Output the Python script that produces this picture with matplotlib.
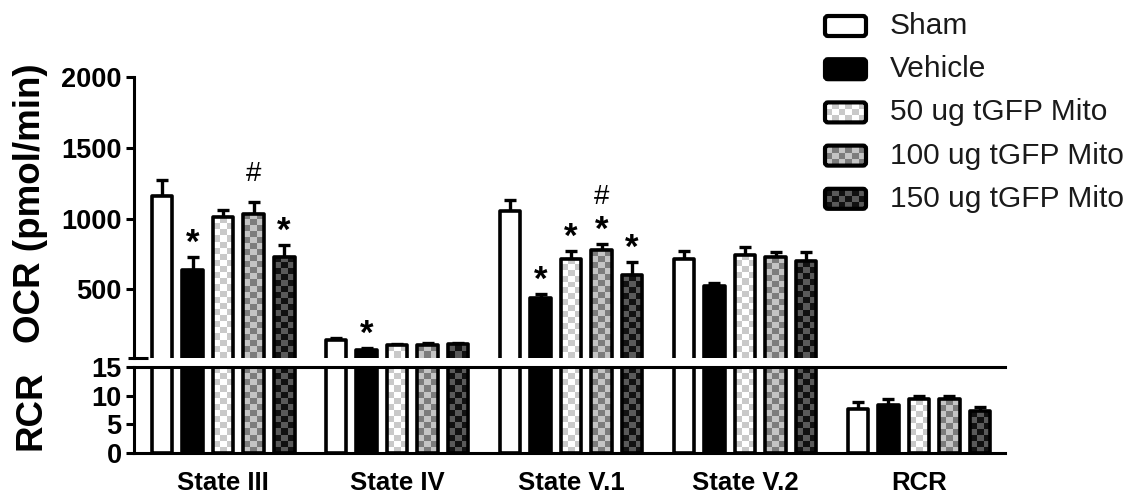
import matplotlib
matplotlib.use("Agg")
import matplotlib.pyplot as plt
import numpy as np
from matplotlib.colors import ListedColormap
from matplotlib.patches import FancyBboxPatch
from matplotlib.transforms import blended_transform_factory

plt.rcParams['font.family'] = ['Liberation Sans', 'DejaVu Sans']

# Data
groups = ["State III", "State IV", "State V.1", "State V.2", "RCR"]
series = ["Sham", "Vehicle", "50 ug tGFP Mito", "100 ug tGFP Mito", "150 ug tGFP Mito"]

sham = [1160, 145, 1050, 715, 7.7]
sham_err = [115, 10, 80, 55, 1.2]
vehicle = [640, 75, 440, 525, 8.4]
vehicle_err = [85, 8, 30, 20, 1.0]
mito50 = [1010, 108, 715, 745, 9.4]
mito50_err = [50, 8, 55, 55, 0.5]
mito100 = [1035, 110, 775, 725, 9.4]
mito100_err = [80, 8, 45, 40, 0.5]
mito150 = [730, 112, 600, 700, 7.3]
mito150_err = [80, 8, 90, 65, 0.7]

values = [sham, vehicle, mito50, mito100, mito150]
errors = [sham_err, vehicle_err, mito50_err, mito100_err, mito150_err]

# significance marks: (group index, series index, symbol)
marks = [(0, 1, "*"), (0, 3, "#"), (0, 4, "*"),
         (1, 1, "*"),
         (2, 1, "*"), (2, 2, "*"), (2, 3, "*"), (2, 3, "#"), (2, 4, "*")]

# Styles: base colour, checker colour (None = plain)
styles = [("white", None), ("black", None), ("white", "#c9c9c9"),
          ("#c4c4c4", "#7c7c7c"), ("#111111", "#5a5a5a")]

group_step = 5.7
bar_w = 0.68
lw = 2.6

W, H = 1134, 495
fig = plt.figure(figsize=(W / 100, H / 100), dpi=100)
ax_top = fig.add_axes([134 / W, 1 - 358 / H, 871 / W, 281 / H])
ax_bot = fig.add_axes([134 / W, 1 - 453 / H, 871 / W, 86 / H])

xlim = (-0.92, 4 * group_step + 4 + 0.82)
ylims = {ax_top: (15, 2000), ax_bot: (0, 15)}
for ax in (ax_top, ax_bot):
    ax.set_xlim(*xlim)
    ax.set_ylim(*ylims[ax])


def add_checker(ax, rect, c1, c2, cell=6.0):
    x0, w = rect.get_x(), rect.get_width()
    y0, h = rect.get_y(), rect.get_height()
    lo, hi = ax.get_ylim()
    ya, yb = max(y0, lo), min(y0 + h, hi)
    if yb <= ya:
        return
    p0 = ax.transData.transform((x0, ya))
    p1 = ax.transData.transform((x0 + w, yb))
    nx = max(1, int(round((p1[0] - p0[0]) / cell)))
    ny = max(1, int(round((p1[1] - p0[1]) / cell)))
    arr = (np.add.outer(np.arange(ny), np.arange(nx)) % 2)
    im = ax.imshow(arr, extent=(x0, x0 + w, ya, yb), origin='lower',
                   cmap=ListedColormap([c1, c2]), interpolation='nearest',
                   aspect='auto', zorder=2.5)
    im.set_clip_path(rect)


x_base = np.arange(len(groups)) * group_step
for ax in (ax_top, ax_bot):
    lo = ylims[ax][0]
    for j, (vals, errs) in enumerate(zip(values, errors)):
        keep = [g for g in range(len(groups)) if vals[g] > lo]
        xs = x_base[keep] + j
        v = np.array(vals)[keep]
        e = np.array(errs)[keep]
        base, check = styles[j]
        ax.errorbar(xs, v, yerr=[np.zeros(len(v)), e], fmt='none',
                    ecolor='black', elinewidth=2.4, capsize=4.5, capthick=2.4,
                    zorder=1.5)
        bars = ax.bar(xs, v, width=bar_w, color=base, edgecolor='none', zorder=2)
        if check is not None:
            for rect in bars:
                add_checker(ax, rect, base, check)
        ax.bar(xs, v, width=bar_w, fill=False, edgecolor='black',
               linewidth=lw, joinstyle='round', zorder=3)
    ax.set_xlim(*xlim)
    ax.set_ylim(*ylims[ax])
    ax.spines['right'].set_visible(False)
    for s in ax.spines.values():
        s.set_linewidth(2.2)
    ax.tick_params(axis='y', length=6, width=2.2, labelsize=19.5, pad=3)

# top axes
ax_top.spines['top'].set_visible(False)
ax_top.spines['bottom'].set_visible(False)
ax_top.set_yticks([500, 1000, 1500, 2000])
ax_top.set_yticklabels(["500", "1000", "1500", "2000"], fontweight='bold')
ax_top.set_xticks([])
trans = blended_transform_factory(ax_top.transAxes, ax_top.transData)
ax_top.plot([-0.007, 0.016], [15, 15], color='black', lw=2.2,
            transform=trans, clip_on=False, solid_capstyle='butt')

# bottom axes
ax_bot.set_yticks([0, 5, 10, 15])
ax_bot.set_yticklabels(["0", "5", "10", "15"], fontweight='bold')
ax_bot.set_xticks(x_base + 2)
ax_bot.set_xticklabels(groups, fontweight='bold', fontsize=18.5)
ax_bot.tick_params(axis='x', length=0, pad=13)

# significance marks
for g, j, sym in marks:
    top = values[j][g] + errors[j][g]
    stacked = sym == "#" and any(m[:2] == (g, j) and m[2] == "*" for m in marks)
    if sym == "*":
        ax_top.annotate("*", xy=(x_base[g] + j, top), xytext=(0, 3),
                        textcoords='offset points', ha='center', va='baseline',
                        fontsize=25, fontweight='bold', zorder=4)
    else:
        off = 29 if stacked else 15
        ax_top.annotate("#", xy=(x_base[g] + j, top), xytext=(0, off),
                        textcoords='offset points', ha='center', va='baseline',
                        fontsize=20, zorder=4)

# y labels
fig.text(31 / W, 1 - 203 / H, "OCR (pmol/min)", rotation=90, ha='center',
         va='center', fontsize=26.5, fontweight='bold')
fig.text(31 / W, 1 - 410 / H, "RCR", rotation=90, ha='center',
         va='center', fontsize=26.5, fontweight='bold')

# legend drawn in pixel coordinates
lax = fig.add_axes([0, 0, 1, 1], zorder=5)
lax.set_xlim(0, W)
lax.set_ylim(H, 0)
lax.axis('off')
for i, name in enumerate(series):
    yc = 26 + i * 43.2
    base, check = styles[i]
    box = FancyBboxPatch((825, yc - 10), 41, 20,
                         boxstyle="round,pad=0,rounding_size=3",
                         facecolor=base, edgecolor='none', zorder=2)
    lax.add_patch(box)
    if check is not None:
        arr = (np.add.outer(np.arange(3), np.arange(6)) % 2)
        im = lax.imshow(arr, extent=(825, 866, yc + 10, yc - 10), origin='lower',
                        cmap=ListedColormap([base, check]),
                        interpolation='nearest', aspect='auto', zorder=2.5)
        im.set_clip_path(box)
    lax.add_patch(FancyBboxPatch((825, yc - 10), 41, 20,
                                 boxstyle="round,pad=0,rounding_size=3",
                                 fill=False, edgecolor='black', lw=3, zorder=3))
    lax.text(890, yc, name, va='center', ha='left', fontsize=21.5, color='#1a1a1a')
lax.set_xlim(0, W)
lax.set_ylim(H, 0)

fig.savefig("out.png", dpi=100)
